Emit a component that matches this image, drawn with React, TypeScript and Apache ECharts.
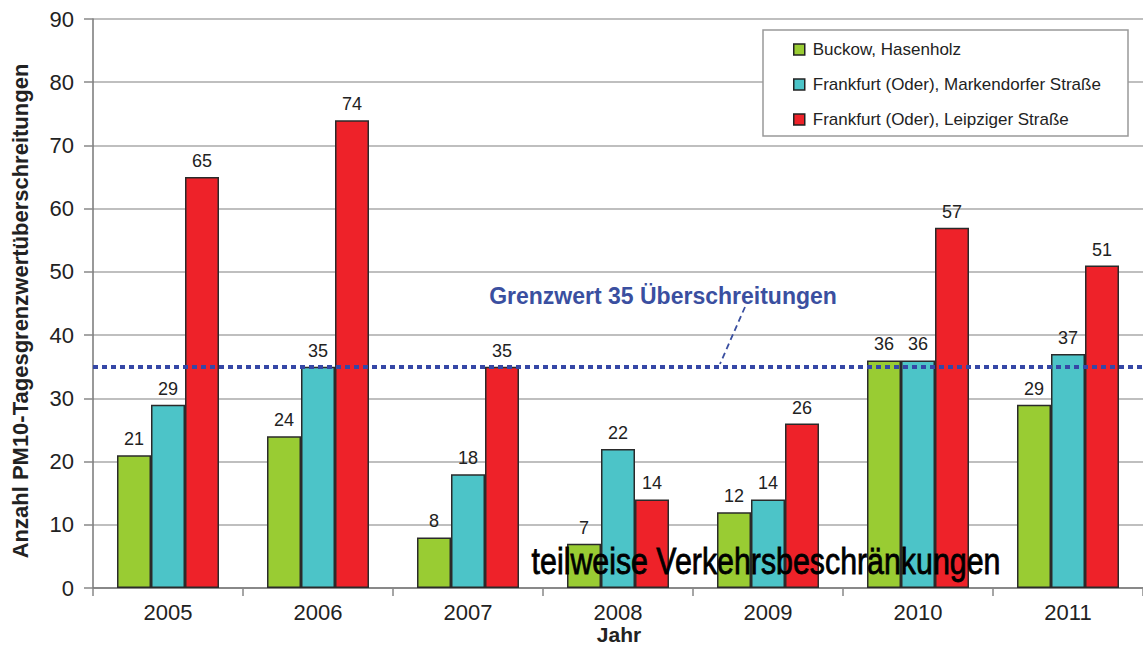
import React, { useEffect, useRef } from "react";
import * as echarts from "echarts";

const years = ["2005", "2006", "2007", "2008", "2009", "2010", "2011"];
const buckow = [21, 24, 8, 7, 12, 36, 29];
const markendorfer = [29, 35, 18, 22, 14, 36, 37];
const leipziger = [65, 74, 35, 14, 26, 57, 51];
const limitValue = 35;
const seriesNames = [
  "Buckow, Hasenholz",
  "Frankfurt (Oder), Markendorfer Straße",
  "Frankfurt (Oder), Leipziger Straße",
];
const colors = ["#99CC33", "#4CC4C8", "#EE2229"];

export default function App() {
  const ref = useRef<HTMLDivElement>(null);
  useEffect(() => {
    if (!ref.current) return;
    const chart = echarts.init(ref.current, null, { renderer: "svg" });
    const font = "Liberation Sans, Arial, sans-serif";
    const mk = (name: string, data: number[], color: string, withLimit: boolean) => ({
      name,
      type: "bar",
      data,
      barGap: "0%",
      barCategoryGap: "32%",
      itemStyle: { color, borderColor: "#2a2a2a", borderWidth: 1.5 },
      label: {
        show: true,
        position: "top",
        distance: 7,
        color: "#222",
        fontSize: 18,
        fontFamily: font,
      },
      markLine: withLimit
        ? {
            silent: true,
            symbol: "none",
            label: { show: false },
            lineStyle: { color: "#3547A6", width: 4, type: [5, 4] },
            data: [{ yAxis: limitValue }],
            z: 10,
          }
        : undefined,
      z: 2,
    });
    chart.setOption({
      animation: false,
      backgroundColor: "#fff",
      grid: { left: 93, right: 0, top: 19, bottom: 58, containLabel: false, outerBoundsMode: "none" },
      legend: {
        orient: "vertical",
        left: 788,
        top: 36,
        z: 20,
        itemWidth: 11,
        itemHeight: 11,
        itemGap: 18,
        icon: "rect",
        textStyle: { fontSize: 17, fontFamily: font, color: "#222", padding: [0, 0, 0, 3] },
        data: seriesNames.map((n, i) => ({
          name: n,
          itemStyle: { color: colors[i], borderColor: "#222", borderWidth: 1.5 },
        })),
      },
      xAxis: {
        type: "category",
        data: years,
        axisLine: { show: true, lineStyle: { color: "#777", width: 1.5 } },
        axisTick: { show: true, length: 8, lineStyle: { color: "#888", width: 1.5 } },
        axisLabel: { fontSize: 22, fontFamily: font, color: "#222", margin: 14, lineHeight: 20 },
      },
      yAxis: {
        type: "value",
        min: 0,
        max: 90,
        interval: 10,
        axisLine: { show: true, lineStyle: { color: "#777", width: 1.5 } },
        axisTick: { show: true, length: 9, inside: false, lineStyle: { color: "#888", width: 1.5 } },
        axisLabel: { fontSize: 22, fontFamily: font, color: "#222", margin: 19 },
        splitLine: { show: true, lineStyle: { color: "#aaa", width: 1.5 } },
      },
      graphic: [
        {
          type: "rect",
          shape: { x: 763, y: 30, width: 365, height: 106 },
          style: { fill: "#fff", stroke: "#999", lineWidth: 1.5 },
          z: 5,
        },
        {
          type: "text",
          x: 20,
          y: 311,
          rotation: Math.PI / 2,
          style: {
            text: "Anzahl PM10-Tagesgrenzwertüberschreitungen",
            fontSize: 22,
            fontWeight: "bold",
            fontFamily: font,
            fill: "#222",
            align: "center",
            verticalAlign: "middle",
          },
          z: 20,
        },
        {
          type: "text",
          x: 619,
          y: 634,
          style: {
            text: "Jahr",
            fontSize: 21,
            lineHeight: 18,
            fontWeight: "bold",
            fontFamily: font,
            fill: "#222",
            align: "center",
            verticalAlign: "middle",
          },
          z: 20,
        },
        {
          type: "text",
          x: 663,
          y: 296,
          style: {
            text: "Grenzwert 35 Überschreitungen",
            fontSize: 23,
            fontWeight: "bold",
            fontFamily: font,
            fill: "#3A4FA0",
            align: "center",
            verticalAlign: "middle",
          },
          z: 20,
        },
        {
          type: "line",
          shape: { x1: 745, y1: 307, x2: 720, y2: 364 },
          style: { stroke: "#3A4FA0", lineWidth: 1.8, lineDash: [6, 4] },
          z: 20,
        },
        {
          type: "text",
          x: 766,
          y: 561,
          scaleX: 0.82,
          style: {
            text: "teilweise Verkehrsbeschränkungen",
            fontSize: 37,
            fontFamily: font,
            fill: "#000",
            stroke: "#000",
            lineWidth: 0.8,
            align: "center",
            verticalAlign: "middle",
          },
          z: 30,
        },
      ],
      series: [
        mk(seriesNames[0], buckow, colors[0], true),
        mk(seriesNames[1], markendorfer, colors[1], false),
        mk(seriesNames[2], leipziger, colors[2], false),
      ],
    });
    return () => chart.dispose();
  }, []);
  return <div ref={ref} style={{ width: 1143, height: 646, position: "absolute", left: 0, top: 0 }} />;
}
